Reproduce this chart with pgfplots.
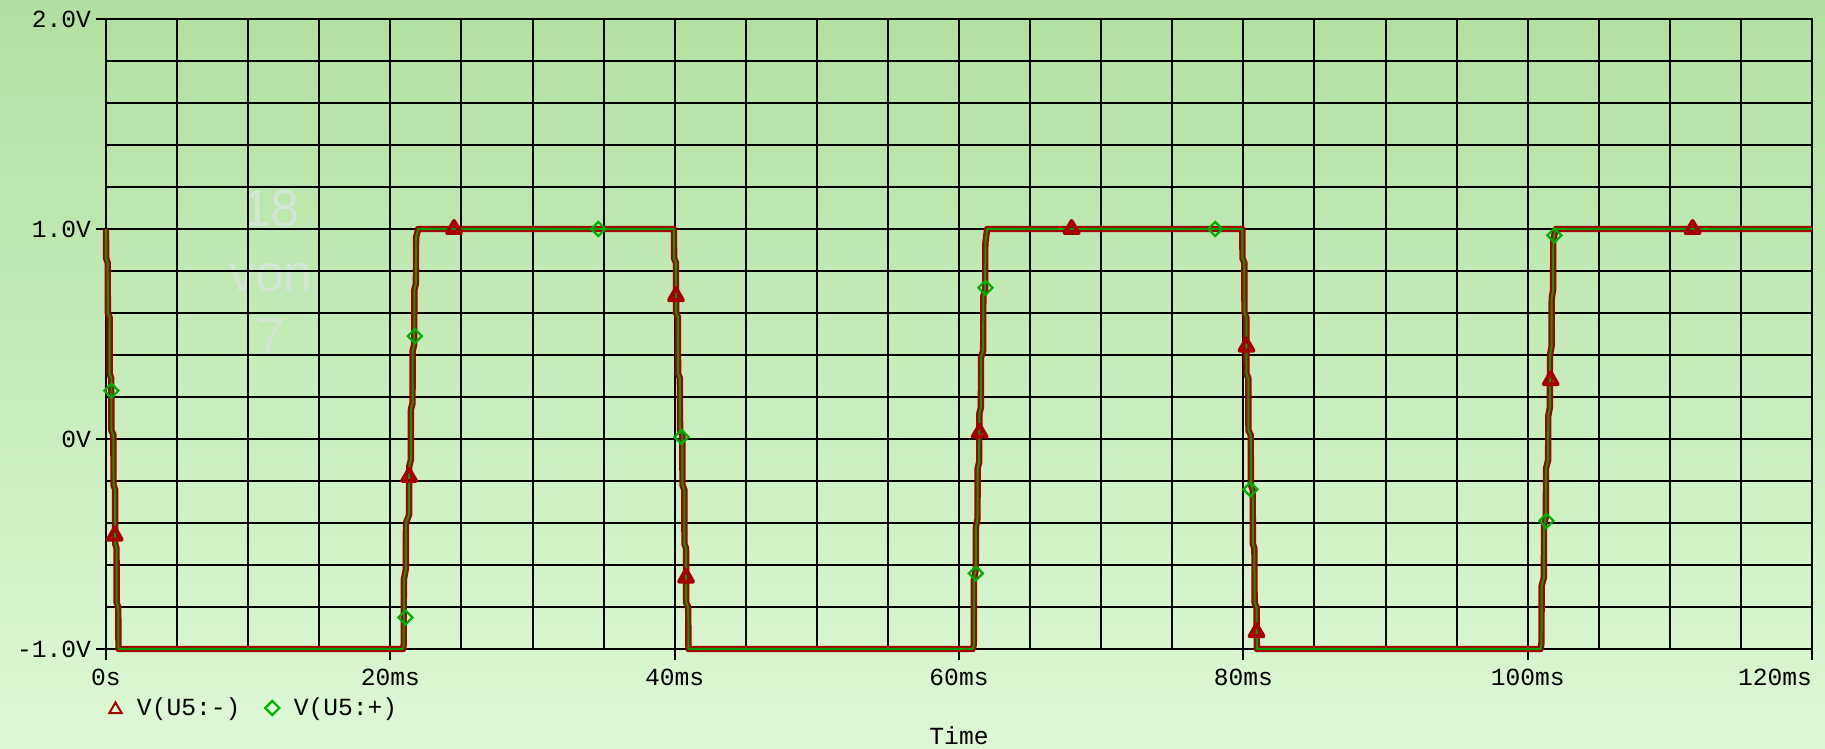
\documentclass[border=0pt]{standalone}
\usepackage{fontspec}
\setmainfont{Liberation Mono}
\newfontfamily\wmfont{Liberation Sans}
\usepackage{pgfplots}
\pgfplotsset{compat=1.18}
\definecolor{trRed}{RGB}{165,0,0}
\definecolor{trGreen}{RGB}{0,160,0}
\definecolor{mkGreen}{RGB}{0,175,0}
\definecolor{bgTop}{RGB}{176,224,160}
\definecolor{bgBot}{RGB}{222,248,214}
\definecolor{wm}{RGB}{214,230,212}
\newcommand\lbl{\fontsize{12.3}{14}\selectfont}
\pgfplotsset{
  marklegend/.style={legend image code/.code={\path[draw=none,fill=none] (-5pt,0pt) -- (10.75pt,0pt); \draw[##1] plot coordinates {(0pt,0pt)};}},
  trilegend/.style={legend image code/.code={\path[draw=none,fill=none] (-5pt,0pt) -- (10.75pt,0pt); \draw[##1, mark size=3.6pt, mark options={line width=1pt, line join=miter}] plot coordinates {(0pt,-0.8pt)};}}}
\begin{document}
\begin{tikzpicture}
\shade[top color=bgTop, bottom color=bgBot] (-53pt,-50pt) rectangle (859.5pt,324.5pt);
\node[font=\wmfont\fontsize{26}{30}\selectfont, text=wm, anchor=base, inner sep=0pt] at (82.5pt,211.2pt) {18};
\node[font=\wmfont\fontsize{26}{30}\selectfont, text=wm, anchor=base, inner sep=0pt] at (82.5pt,178.7pt) {von};
\node[font=\wmfont\fontsize{26}{30}\selectfont, text=wm, anchor=base, inner sep=0pt] at (82.5pt,147pt) {7};
\begin{axis}[
  at={(0,0)}, anchor=south west,
  scale only axis, width=853pt, height=315pt,
  xmin=0, xmax=120, ymin=-1, ymax=2,
  clip=false,
  xtick={0,20,...,120},
  xticklabels={0s,20ms,40ms,60ms,80ms,100ms,\llap{120ms}},
  ytick={-1,0,1,2},
  yticklabels={-1.0V,0V,1.0V,2.0V},
  minor x tick num=3, minor y tick num=4,
  grid=both,
  major grid style={black, line width=1pt},
  minor grid style={black, line width=1pt},
  axis line style={black, line width=1pt},
  tick style={black, line width=1pt},
  tick align=outside,
  major tick length=5.25pt, minor tick length=0pt,
  xtick pos=left, ytick pos=left,
  xticklabel style={font=\lbl, anchor=base, yshift=-13.2pt},
  yticklabel style={font=\lbl, anchor=east, xshift=1.2pt},
  xlabel={Time},
  xlabel style={font=\lbl, at={(rel axis cs:0.5,0)}, anchor=base, yshift=-47.5pt},
  legend style={draw=none, fill=none, inner sep=0pt, outer sep=0pt,
    legend columns=2, at={(rel axis cs:0,0)}, anchor=west,
    xshift=-0.25pt, yshift=-29.5pt, font=\lbl, nodes={inner sep=0pt},
    /tikz/every even column/.append style={column sep=11pt}},
]
\pgfplotstableread{
t v
0 1.00
0.01 0.86
0.12 0.84
0.13 0.60
0.25 0.58
0.26 0.31
0.37 0.29
0.38 0.04
0.52 0.02
0.53 -0.22
0.64 -0.24
0.65 -0.50
0.74 -0.52
0.75 -0.78
0.86 -0.80
0.88 -1.00
20.90 -1.00
20.94 -0.98
20.95 -0.67
21.09 -0.62
21.10 -0.40
21.32 -0.36
21.33 -0.13
21.44 -0.10
21.45 0.14
21.56 0.17
21.57 0.42
21.68 0.45
21.69 0.71
21.80 0.74
21.81 0.96
21.96 1.00
39.95 1.00
39.96 0.86
40.09 0.84
40.10 0.60
40.23 0.58
40.24 0.31
40.37 0.29
40.38 0.04
40.54 0.02
40.55 -0.22
40.68 -0.24
40.69 -0.50
40.80 -0.52
40.81 -0.78
40.95 -0.80
40.97 -1.00
60.96 -1.00
61.04 -0.98
61.05 -0.67
61.18 -0.62
61.19 -0.42
61.30 -0.38
61.31 -0.14
61.42 -0.11
61.43 0.12
61.54 0.15
61.55 0.39
61.70 0.42
61.71 0.68
61.84 0.71
61.85 0.93
61.98 1.00
79.93 1.00
79.94 0.86
80.07 0.84
80.08 0.60
80.21 0.58
80.22 0.31
80.35 0.29
80.36 0.04
80.52 0.02
80.53 -0.22
80.66 -0.24
80.67 -0.50
80.78 -0.52
80.79 -0.78
80.93 -0.80
80.95 -1.00
100.91 -1.00
100.97 -0.97
100.98 -0.70
101.14 -0.66
101.15 -0.41
101.28 -0.37
101.29 -0.14
101.44 -0.10
101.45 0.11
101.56 0.15
101.57 0.40
101.68 0.44
101.69 0.67
101.79 0.71
101.80 0.95
101.97 1.00
120 1.00
}\trace
\addplot[forget plot, trRed, line width=3.2pt, line join=round, no marks] table[x=t,y=v] {\trace};
\addplot[forget plot, trGreen, line width=1pt, line join=round, no marks] table[x=t,y=v] {\trace};
\addplot[only marks, mark=triangle, mark size=4pt, trRed, mark options={line width=2pt, line join=round}, trilegend]
  coordinates {(0.62,-0.46) (21.32,-0.18) (24.48,1.0) (40.09,0.68) (40.80,-0.66) (61.45,0.03) (67.92,1.0) (80.22,0.44) (80.93,-0.92) (101.62,0.28) (111.6,1.0)};
\addlegendentry{V(U5:-)}
\addplot[only marks, mark=square, mark size=2.5pt, mkGreen, mark options={rotate=45, line width=1.1pt}, marklegend]
  coordinates {(0.38,0.23) (21.06,-0.85) (21.72,0.49) (34.63,1.0) (40.48,0.01) (61.18,-0.64) (61.86,0.72) (78.02,1.0) (80.50,-0.24) (101.32,-0.39) (101.88,0.97)};
\addlegendentry{V(U5:+)}
\end{axis}
\pgfresetboundingbox
\path[use as bounding box] (-53pt,-50pt) rectangle (859.5pt,324.5pt);
\end{tikzpicture}
\end{document}
